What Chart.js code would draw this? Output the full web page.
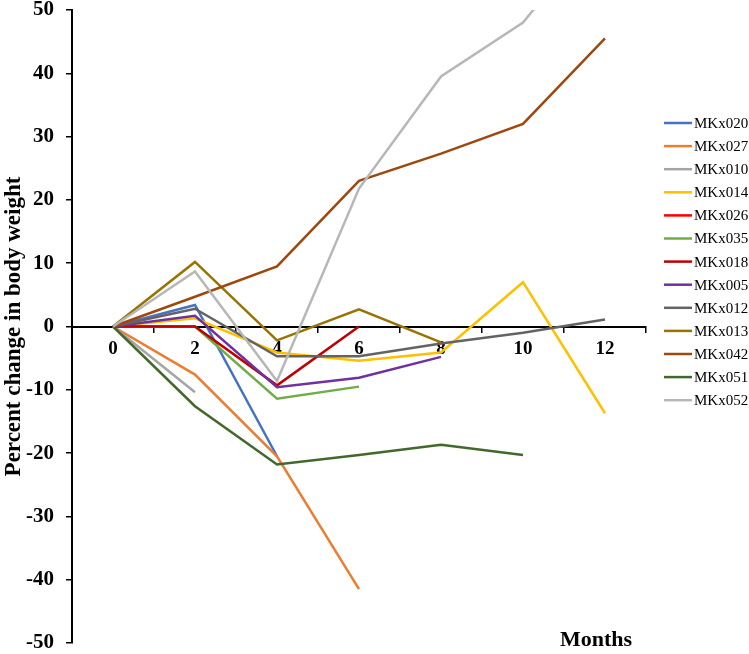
<!DOCTYPE html>
<html>
<head>
<meta charset="utf-8">
<script src="https://cdn.jsdelivr.net/npm/chart.js@4.4.1/dist/chart.umd.min.js"></script>
<style>
  html, body { margin: 0; padding: 0; background: #fff; }
  #wrap { width: 749px; height: 654px; }
</style>
</head>
<body>
<div id="wrap"><canvas id="lineChart"></canvas></div>
<script>
// months on the x axis
const months = ["0", "2", "4", "6", "8", "10", "12"];
const yTicks = [-50, -40, -30, -20, -10, 0, 10, 20, 30, 40, 50];

// percent change per animal
const MKx020 = [0, 3.4, -20.5];
const MKx027 = [0, -7.6, -20.5, -41.5];
const MKx010 = [0, -10.4];
const MKx014 = [0, 1.3, -4.1, -5.4, -4.1, 7.0, -13.7];
const MKx026 = [0, 0];
const MKx035 = [0, 0, -11.4, -9.5];
const MKx018 = [0, 0, -9.3, 0];
const MKx005 = [0, 1.7, -9.6, -8.1, -4.8];
const MKx012 = [0, 2.8, -4.7, -4.7, -2.7, -1.0, 1.1];
const MKx013 = [0, 10.2, -2.2, 2.7, -2.5];
const MKx042 = [0, 4.7, 9.5, 23.0, 27.3, 32.0, 45.5];
const MKx051 = [0, -12.6, -21.8, -20.3, -18.7, -20.3];
const MKx052 = [0, 8.7, -8.6, 21.8, 39.5, 48.0, 64.0];

const names = ["MKx020", "MKx027", "MKx010", "MKx014", "MKx026", "MKx035", "MKx018",
               "MKx005", "MKx012", "MKx013", "MKx042", "MKx051", "MKx052"];
const series = [MKx020, MKx027, MKx010, MKx014, MKx026, MKx035, MKx018,
                MKx005, MKx012, MKx013, MKx042, MKx051, MKx052];
const colors = ["#4472C4", "#ED7D31", "#A5A5A5", "#FFC000", "#FF0000", "#70AD47", "#C00000",
                "#7030A0", "#636363", "#997300", "#9E480E", "#43682B", "#B7B7B7"];

const SERIF = "'Liberation Serif', 'Times New Roman', serif";

// legend + x title drawn by hand so they sit where the original has them
const extras = {
    id: "extras",
    afterDraw(chart) {
        const ctx = chart.ctx;
        ctx.save();
        chart.data.datasets.forEach((ds, i) => {
            const y = 123 + i * 23.1;
            ctx.strokeStyle = ds.borderColor;
            ctx.lineWidth = 2.5;
            ctx.beginPath();
            ctx.moveTo(664, y);
            ctx.lineTo(692, y);
            ctx.stroke();
            ctx.fillStyle = "#000";
            ctx.font = "15px " + SERIF;
            ctx.textBaseline = "middle";
            ctx.textAlign = "left";
            ctx.fillText(ds.label, 694, y + 1);
        });
        ctx.font = "bold 22px " + SERIF;
        ctx.textAlign = "left";
        ctx.textBaseline = "middle";
        ctx.fillText("Months", 560, 640);
        ctx.restore();
    }
};

window.addEventListener("load", function () {
    const CHART = document.getElementById("lineChart");
    new Chart(CHART, {
        type: "line",
        data: {
            labels: months,
            datasets: series.map((vals, i) => ({
                label: names[i],
                data: vals,
                borderColor: colors[i],
                backgroundColor: colors[i],
                borderWidth: 2.5,
                pointRadius: 0,
                tension: 0,
                fill: false,
                order: series.length - i
            }))
        },
        options: {
            responsive: true,
            maintainAspectRatio: false,
            animation: false,
            layout: { padding: { left: 0, top: 10, right: 103, bottom: 11 } },
            plugins: {
                legend: { display: false },
                tooltip: { enabled: false }
            },
            scales: {
                x: {
                    position: { y: 0 },
                    offset: true,
                    grid: {
                        display: true,
                        offset: true,
                        drawOnChartArea: false,
                        drawTicks: true,
                        tickLength: 5,
                        color: "#000",
                        lineWidth: 1.5
                    },
                    border: { display: true, color: "#000", width: 2 },
                    ticks: {
                        color: "#000",
                        padding: 6,
                        maxRotation: 0,
                        font: { family: SERIF, size: 19, weight: "bold" }
                    }
                },
                y: {
                    min: -50,
                    max: 50,
                    afterFit: s => { s.width = 72; s.paddingTop = 0; s.paddingBottom = 0; },
                    afterBuildTicks: s => { s.ticks = yTicks.map(v => ({ value: v })); },
                    grid: {
                        display: true,
                        drawOnChartArea: false,
                        drawTicks: true,
                        tickLength: 6,
                        color: "#000",
                        lineWidth: 1.5
                    },
                    border: { display: true, color: "#000", width: 2 },
                    ticks: {
                        color: "#000",
                        padding: 12,
                        font: { family: SERIF, size: 21, weight: "bold" }
                    },
                    title: {
                        display: true,
                        text: "Percent change in body weight",
                        color: "#000",
                        padding: { top: 0, bottom: 0 },
                        font: { family: SERIF, size: 23, weight: "bold" }
                    }
                }
            }
        },
        plugins: [extras]
    });
});
</script>
</body>
</html>
